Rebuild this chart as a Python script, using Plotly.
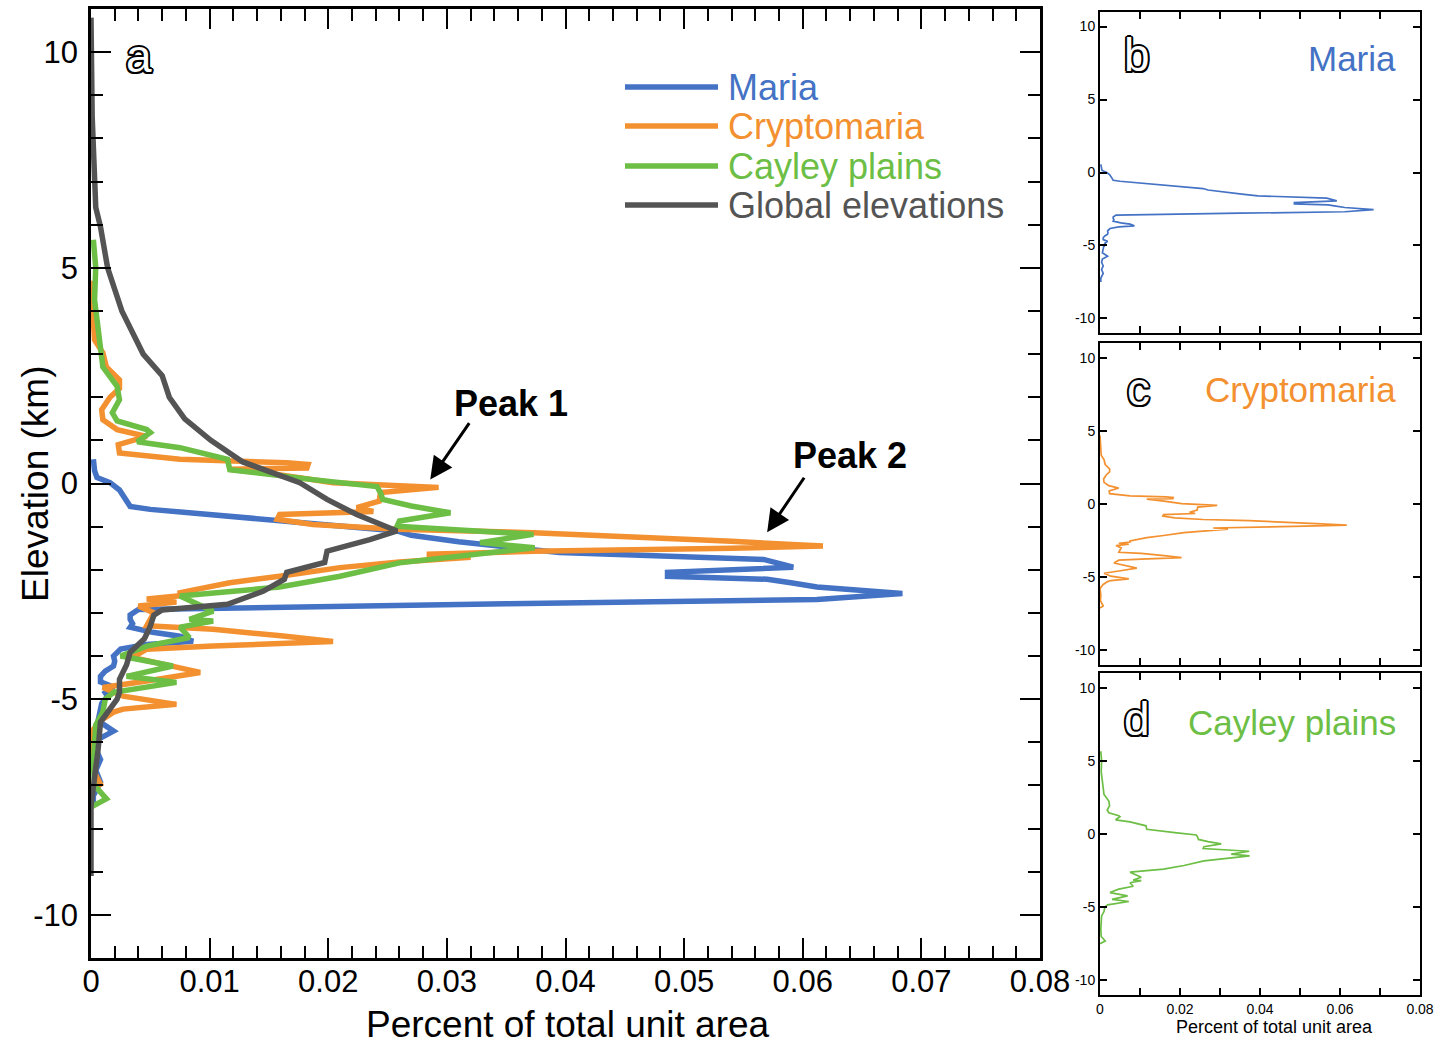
import plotly.graph_objects as go

# ---- elevation histograms (elevation in km, share of unit area) ----
maria_elev = [0.56, 0.3, 0.14, 0.02, -0.15, -0.35, -0.53, -0.6, -0.66, -0.72, -0.8, -0.88,
              -0.95, -1.05, -1.1, -1.2, -1.35, -1.5, -1.6, -1.7, -1.76, -1.94, -2.06, -2.15,
              -2.22, -2.3, -2.4, -2.55, -2.69, -2.79, -2.92, -3.05, -3.15, -3.25, -3.33, -3.45,
              -3.54, -3.66, -3.73, -3.84, -4.0, -4.12, -4.23, -4.35, -4.47, -4.6, -4.72, -4.85,
              -4.93, -5.1, -5.3, -5.5, -5.74, -5.93, -6.15, -6.4, -6.65, -6.92, -7.24, -7.5]
maria_val = [0.0002, 0.0003, 0.0005, 0.0016, 0.0024, 0.0029, 0.0033, 0.005, 0.0075, 0.0103, 0.013, 0.0157,
             0.019, 0.023, 0.0258, 0.027, 0.031, 0.036, 0.0395, 0.05, 0.0567, 0.0592, 0.0486, 0.0486,
             0.057, 0.059, 0.0612, 0.0684, 0.0612, 0.035, 0.004, 0.0033, 0.0033, 0.0035, 0.0033, 0.0052,
             0.0075, 0.0086, 0.0047, 0.0025, 0.0019, 0.002, 0.0019, 0.0012, 0.0008, 0.0008, 0.0019, 0.0012,
             0.0014, 0.0009, 0.0008, 0.0006, 0.0019, 0.0006, 0.0004, 0.0008, 0.0004, 0.0008, 0.0002, 0.0002]

crypto_elev = [4.7, 4.0, 3.33, 3.03, 2.7, 2.4, 2.2, 2.0, 1.71, 1.48, 1.25, 1.09, 0.9, 0.71, 0.56,
               0.48, 0.44, 0.36, 0.33, 0.2, 0.02, -0.09, -0.21, -0.41, -0.56, -0.65, -0.72, -0.83,
               -0.95, -1.06, -1.14, -1.34, -1.45, -1.5, -1.57, -1.64, -1.71, -1.82, -1.95, -2.15,
               -2.3, -2.53, -2.6, -2.68, -2.75, -2.84, -3.0, -3.3, -3.38, -3.53, -3.66, -3.77, -3.84,
               -4.03, -4.3, -4.38, -4.58, -4.73, -4.93, -5.12, -5.23, -5.3, -5.5, -5.77, -6.2, -6.6,
               -6.97, -7.1]
crypto_val = [0.0, 0.0001, 0.0003, 0.001, 0.0013, 0.0024, 0.0024, 0.0016, 0.0009, 0.001, 0.0022, 0.0047,
              0.0023, 0.0024, 0.0075, 0.0165, 0.0183, 0.0182, 0.0117, 0.016, 0.0204, 0.0293, 0.0244,
              0.0243, 0.0224, 0.0238, 0.0159, 0.0157, 0.0187, 0.0258, 0.0373, 0.054, 0.0617, 0.054,
              0.0373, 0.0283, 0.032, 0.026, 0.021, 0.0159, 0.0117, 0.0075, 0.0075, 0.0047, 0.0072,
              0.004, 0.0053, 0.0047, 0.0103, 0.016, 0.0204, 0.0103, 0.0047, 0.0035, 0.0083, 0.0092,
              0.0047, 0.001, 0.0027, 0.0072, 0.0027, 0.0019, 0.0008, 0.0, 0.0002, 0.0001, 0.0008, 0.0]

cayley_elev = [5.65, 5.0, 4.26, 3.5, 2.7, 2.25, 1.94, 1.64, 1.45, 1.25, 1.18, 0.97, 0.83, 0.56, 0.32,
               0.09, -0.07, -0.21, -0.37, -0.52, -0.68, -0.87, -0.99, -1.18, -1.37, -1.49, -1.68,
               -1.84, -2.15, -2.4, -2.61, -2.8, -2.96, -3.15, -3.19, -3.33, -3.57, -3.77, -4.0, -4.23,
               -4.47, -4.61, -4.84, -5.0, -5.3, -5.6, -6.0, -6.5, -7.0, -7.31, -7.5]
cayley_val = [0.0002, 0.0004, 0.0003, 0.0006, 0.001, 0.0022, 0.0024, 0.0018, 0.0022, 0.0047, 0.005,
              0.0039, 0.0075, 0.0115, 0.0117, 0.0187, 0.0241, 0.0244, 0.0246, 0.027, 0.0303, 0.026,
              0.0258, 0.0373, 0.0328, 0.0374, 0.0314, 0.026, 0.021, 0.0159, 0.0075, 0.009, 0.0103,
              0.0083, 0.0103, 0.0075, 0.0083, 0.0047, 0.0025, 0.0069, 0.003, 0.0072, 0.0019, 0.0012,
              0.001, 0.0004, 0.0003, 0.0002, 0.0003, 0.0013, 0.0]

global_elev = [10.8, 9.5, 8.5, 7.8, 7.0, 6.4, 5.95, 5.5, 5.0, 4.5, 4.0, 3.5, 3.0, 2.5, 2.0, 1.5,
               1.0, 0.5, 0.02, -0.37, -0.72, -1.1, -1.3, -1.57, -1.83, -2.06, -2.22, -2.5, -2.8,
               -2.93, -3.05, -3.31, -3.6, -3.91, -4.2, -4.54, -4.84, -5.0, -5.53, -6.16, -6.69, -7.47,
               -8.3, -9.1]
global_val = [0.0, 0.0, 0.0001, 0.0002, 0.0003, 0.0004, 0.0008, 0.0011, 0.0014, 0.002, 0.0026, 0.0035,
              0.0044, 0.006, 0.0066, 0.0079, 0.0101, 0.0128, 0.0176, 0.0199, 0.0224, 0.0258, 0.0235,
              0.0199, 0.0197, 0.0165, 0.0163, 0.0145, 0.0115, 0.006, 0.0053, 0.005, 0.0045, 0.0033,
              0.003, 0.0024, 0.0024, 0.0022, 0.0008, 0.0006, 0.0004, 0.0, 0.0, 0.0]

series_names = ["Maria", "Cryptomaria", "Cayley plains", "Global elevations"]
series_colors = ["#4472C4", "#F39030", "#6CBE45", "#545454"]

# tick labels
main_xticks = [0, 0.01, 0.02, 0.03, 0.04, 0.05, 0.06, 0.07, 0.08]
main_xlabels = ["0", "0.01", "0.02", "0.03", "0.04", "0.05", "0.06", "0.07", "0.08"]
small_xticks = [0, 0.02, 0.04, 0.06, 0.08]
small_xlabels = ["0", "0.02", "0.04", "0.06", "0.08"]
yticks = [-10, -5, 0, 5, 10]
ylabels = ["-10", "-5", "0", "5", "10"]

W, H = 1438, 1045
FONT = "Liberation Sans, Arial, Helvetica, sans-serif"


def px(xp):
    return xp / W


def py(yp):
    return 1 - yp / H


fig = go.Figure()

all_series = [(maria_elev, maria_val), (crypto_elev, crypto_val),
              (cayley_elev, cayley_val), (global_elev, global_val)]

# main panel (a): all four distributions
for (elev, val), name, col in zip(all_series, series_names, series_colors):
    fig.add_trace(go.Scatter(x=val, y=elev, mode="lines", name=name,
                             line=dict(color=col, width=5.5), xaxis="x", yaxis="y",
                             showlegend=False))

# small panels (b, c, d): one unit each
for i, ((elev, val), col) in enumerate(zip(all_series[:3], series_colors[:3])):
    n = i + 2
    fig.add_trace(go.Scatter(x=val, y=elev, mode="lines", line=dict(color=col, width=1.7),
                             xaxis=f"x{n}", yaxis=f"y{n}", showlegend=False))

frame = dict(showline=True, linecolor="black", mirror="ticks", ticks="inside",
             tickcolor="black", showgrid=False, zeroline=False, automargin=False)

layout = dict(
    width=W, height=H, autosize=False, margin=dict(l=0, r=0, t=0, b=0, pad=0),
    paper_bgcolor="white", plot_bgcolor="white",
    font=dict(family=FONT, color="black"),
    xaxis=dict(domain=[px(91), px(1040)], range=[0, 0.08], tickvals=main_xticks,
               ticktext=main_xlabels, ticklen=20, tickwidth=2, linewidth=2.5,
               tickfont=dict(size=31), anchor="y", ticklabelstandoff=-6,
               minor=dict(dtick=0.002, ticklen=12, tickwidth=2, ticks="inside", tickcolor="black"),
               **frame),
    yaxis=dict(domain=[py(958), py(9)], range=[-11, 11], tickvals=yticks, ticktext=ylabels,
               ticklen=20, tickwidth=2, linewidth=2.5, tickfont=dict(size=31), anchor="x",
               ticklabelstandoff=4,
               minor=dict(dtick=1, ticklen=12, tickwidth=2, ticks="inside", tickcolor="black"),
               **frame),
)

panel_tops = [(12, 333), (343, 665), (673, 995)]
for i, (top, bot) in enumerate(panel_tops):
    n = i + 2
    last = (i == 2)
    layout[f"xaxis{n}"] = dict(domain=[px(1100), px(1420)], range=[0, 0.08],
                               tickvals=small_xticks, ticktext=small_xlabels,
                               showticklabels=last, ticklen=7, tickwidth=1.5, linewidth=2,
                               tickfont=dict(size=14), anchor=f"y{n}",
                               minor=dict(dtick=0.01, ticklen=7, tickwidth=1.5, ticks="inside",
                                          tickcolor="black"),
                               **frame)
    layout[f"yaxis{n}"] = dict(domain=[py(bot), py(top)], range=[-11, 11], tickvals=yticks,
                               ticktext=ylabels, ticklen=7, tickwidth=1.5, linewidth=2,
                               tickfont=dict(size=14), anchor=f"x{n}", **frame)

fig.update_layout(**layout)

annotations = []
shapes = []


def note(text, xp, yp, size, color="black", xanchor="center", **kw):
    annotations.append(dict(text=text, x=px(xp), y=py(yp), xref="paper", yref="paper",
                            xanchor=xanchor, yanchor="middle", showarrow=False,
                            font=dict(size=size, color=color, **kw.pop("font_extra", {})), **kw))


# axis titles
note("Elevation (km)", 35, 484, 37, textangle=-90)
note("Percent of total unit area", 568, 1024, 37)
note("Percent of total unit area", 1274, 1027, 18)

# legend of the main panel
legend_y = [87, 126, 166, 205]
for name, col, yy in zip(series_names, series_colors, legend_y):
    shapes.append(dict(type="line", xref="paper", yref="paper", x0=px(625), x1=px(718),
                       y0=py(yy), y1=py(yy), line=dict(color=col, width=5.5)))
    note(name, 726, yy, 36, color=col, xanchor="left")

# outlined panel letters
outline = ("2px 0 0 #000, -2px 0 0 #000, 0 2px 0 #000, 0 -2px 0 #000, "
           "1.5px 1.5px 0 #000, -1.5px -1.5px 0 #000, 1.5px -1.5px 0 #000, -1.5px 1.5px 0 #000")
for letter, xx, yy in [("a", 139, 56), ("b", 1137, 55), ("c", 1138, 389), ("d", 1137, 719)]:
    note(letter, xx, yy, 46, color="white", font_extra=dict(shadow=outline))

# unit names in the small panels
for name, col, yy in zip(series_names[:3], series_colors[:3], [58, 390, 722]):
    note(name, 1398, yy, 35, color=col, xanchor="right")

# peak call-outs
note("<b>Peak 1</b>", 511, 404, 36)
note("<b>Peak 2</b>", 850, 456, 36)
annotations.append(dict(text="", x=crypto_val[crypto_elev.index(-0.09)] - 0.0007, y=0.09,
                        xref="x", yref="y", showarrow=True, ax=40, ay=-58, arrowhead=2,
                        arrowsize=1.5, arrowwidth=3, arrowcolor="black"))
annotations.append(dict(text="", x=0.057, y=-1.13, xref="x", yref="y", showarrow=True,
                        ax=38, ay=-56, arrowhead=2, arrowsize=1.5, arrowwidth=3,
                        arrowcolor="black"))

fig.update_layout(annotations=annotations, shapes=shapes)
fig.write_html("out.html")
